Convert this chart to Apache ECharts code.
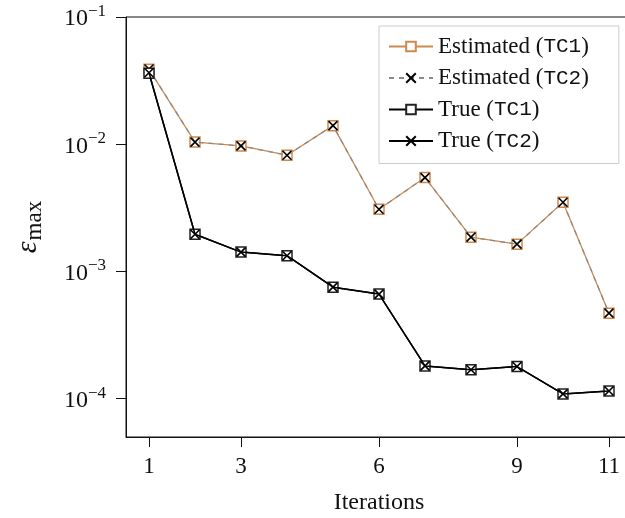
<!DOCTYPE html>
<html>
<head>
<meta charset="utf-8">
<script src="https://cdn.jsdelivr.net/npm/echarts@6/dist/echarts.min.js"></script>
<style>
  html, body { margin: 0; padding: 0; background: #fff; }
  #chart { width: 625px; height: 518px; }
</style>
</head>
<body>
<div id="chart"></div>
<script>
// iterations and the max error per iteration
var iterations = [1, 2, 3, 4, 5, 6, 7, 8, 9, 10, 11];
var estTC1 = [0.0388, 0.0104, 0.0097, 0.0082, 0.0140, 0.00308, 0.00547, 0.00186, 0.00164, 0.0035, 0.00047];
var estTC2 = [0.0390, 0.0104, 0.0097, 0.0082, 0.0140, 0.00308, 0.00547, 0.00186, 0.00164, 0.0035, 0.00047];
var trueTC1 = [0.0361, 0.00196, 0.00142, 0.00133, 0.000753, 0.000664, 0.000181, 0.000169, 0.000179, 0.000109, 0.000115];
var trueTC2 = [0.0365, 0.00196, 0.00142, 0.00133, 0.000753, 0.000664, 0.000181, 0.000169, 0.000179, 0.000109, 0.000115];
var xTicks = [1, 3, 6, 9, 11];
var yTicks = [1e-4, 1e-3, 1e-2, 1e-1];

var serif = 'Liberation Serif';
var mono = 'Liberation Mono';
var orange = '#d0894c';
var crossPath = 'path://M0,0L10,10M10,0L0,10';

function pairs(vals) {
  return iterations.map(function (x, i) { return [x, vals[i]]; });
}

var chart = echarts.init(document.getElementById('chart'), null, { renderer: 'canvas' });

var option = {
  animation: false,
  backgroundColor: '#fff',
  // plot box runs a little past the right edge of the picture
  grid: {
    left: 126, top: 17, bottom: 81, width: 506,
    outerBoundsMode: 'none',
    show: true, borderColor: '#111', borderWidth: 1
  },
  legend: {
    orient: 'vertical',
    left: 379,
    top: 26,
    itemWidth: 44,
    itemHeight: 12,
    itemGap: 8.5,
    padding: [9, 30, 11, 9],
    backgroundColor: '#fff',
    borderColor: '#cccccc',
    borderWidth: 1,
    borderRadius: 0,
    formatter: function (name) {
      return name.replace(/\((TC\d)\)/, '({m|$1})');
    },
    textStyle: {
      fontFamily: serif, fontSize: 23, lineHeight: 23, color: '#111',
      rich: { m: { fontFamily: mono, fontSize: 21, lineHeight: 23, color: '#111' } }
    },
    data: ['Estimated (TC1)', 'Estimated (TC2)', 'True (TC1)', 'True (TC2)']
  },
  xAxis: {
    type: 'value',
    min: 0.5,
    max: 11.5,
    name: 'Iterations',
    nameLocation: 'middle',
    nameGap: 54,
    nameTextStyle: { fontFamily: serif, fontSize: 24, color: '#111' },
    axisLine: { lineStyle: { color: '#111', width: 1 } },
    axisTick: { show: true, customValues: xTicks, length: 10, lineStyle: { color: '#111' } },
    axisLabel: {
      customValues: xTicks, margin: 18,
      fontFamily: serif, fontSize: 23, color: '#111'
    },
    splitLine: { show: false }
  },
  yAxis: {
    type: 'log',
    min: 5e-5,
    max: 1e-1,
    name: '{e|ε}{s|max}',
    nameLocation: 'middle',
    nameRotate: 90,
    nameGap: 80,
    nameTextStyle: {
      rich: {
        e: { fontFamily: serif, fontStyle: 'italic', fontSize: 30, color: '#111', verticalAlign: 'top' },
        s: { fontFamily: serif, fontSize: 23, color: '#111', verticalAlign: 'bottom', padding: [10, 0, 0, 1] }
      }
    },
    axisLine: { show: true, lineStyle: { color: '#111', width: 1 } },
    axisTick: { show: true, customValues: yTicks, length: 10, lineStyle: { color: '#111' } },
    axisLabel: {
      customValues: yTicks,
      margin: 20,
      formatter: function (v) {
        var p = Math.round(Math.log10(v));
        return '{b|10}{s|' + (p < 0 ? '\u2212' + (-p) : p) + '}';
      },
      rich: {
        b: { fontFamily: serif, fontSize: 24, color: '#111', verticalAlign: 'bottom' },
        s: { fontFamily: serif, fontSize: 17, color: '#111', verticalAlign: 'bottom', padding: [0, 0, 11, 0] }
      }
    },
    splitLine: { show: false },
    minorTick: { show: false }
  },
  series: [
    {
      name: 'Estimated (TC1)',
      type: 'line',
      data: pairs(estTC1),
      symbol: 'rect',
      symbolSize: 10,
      lineStyle: { color: orange, width: 1.3 },
      itemStyle: { color: '#fff', borderColor: orange, borderWidth: 1.5 },
      emphasis: { disabled: true },
      z: 2
    },
    {
      name: 'Estimated (TC2)',
      type: 'line',
      data: pairs(estTC2),
      symbol: crossPath,
      symbolSize: 9,
      lineStyle: { color: '#8a8a8a', width: 1.3, type: [5, 5] },
      itemStyle: { color: '#000', borderColor: '#000', borderWidth: 1.6 },
      emphasis: { disabled: true },
      z: 3
    },
    {
      name: 'True (TC1)',
      type: 'line',
      data: pairs(trueTC1),
      symbol: 'rect',
      symbolSize: 10,
      lineStyle: { color: '#000', width: 1.5 },
      itemStyle: { color: '#fff', borderColor: '#222', borderWidth: 1.5 },
      emphasis: { disabled: true },
      z: 4
    },
    {
      name: 'True (TC2)',
      type: 'line',
      data: pairs(trueTC2),
      symbol: crossPath,
      symbolSize: 9,
      lineStyle: { color: '#000', width: 1.5 },
      itemStyle: { color: '#000', borderColor: '#000', borderWidth: 1.6 },
      emphasis: { disabled: true },
      z: 5
    }
  ]
};

chart.setOption(option);
</script>
</body>
</html>
